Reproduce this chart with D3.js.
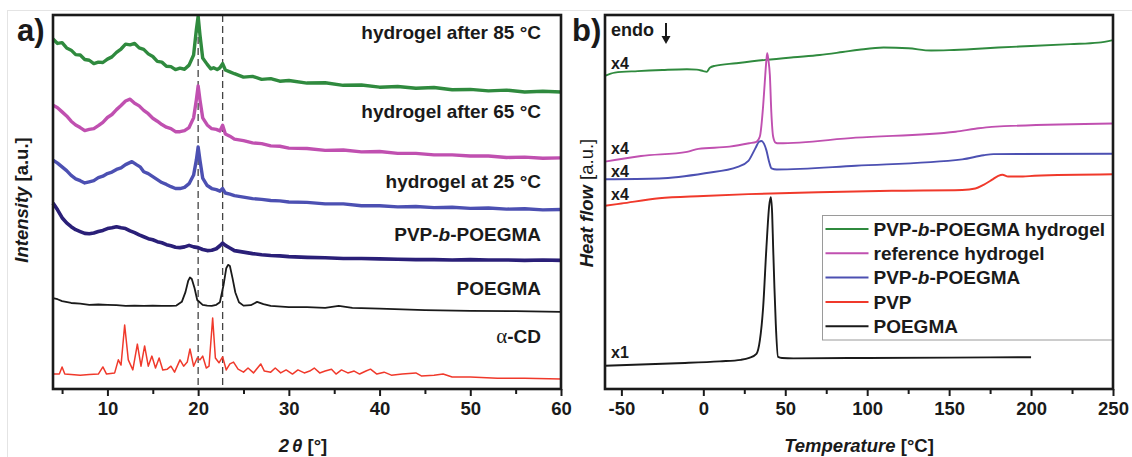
<!DOCTYPE html>
<html>
<head>
<meta charset="utf-8">
<script src="https://cdn.jsdelivr.net/npm/d3@7/dist/d3.min.js"></script>
<style>
body { margin: 0; background: #fff; }
text { font-family: "Liberation Sans", Arial, sans-serif; font-weight: bold; fill: #1a1a1a; }
</style>
</head>
<body>
<svg id="chart" width="1132" height="457"></svg>
<script>
// ---- panel a: XRD, 2theta vs intensity (a.u., offset traces) ----
var xrdTicks = [10, 20, 30, 40, 50, 60];
var xrdMinor = [5, 15, 25, 35, 45, 55];
var xrdDashed = [20, 22.7];

var xrdAfter85 = [[4,93.6],[4.5,92.4],[5,92.6],[5.5,91.2],[6,90.6],[6.5,89.4],[7,89.3],[7.5,88.1],[8,87.9],[8.5,87.0],[9,87.4],[9.5,87.3],[10,88.2],[10.5,88.8],[11,90.0],[11.5,90.9],[12,92.2],[12.5,92.0],[13,92.4],[13.5,91.2],[14,90.8],[14.5,89.6],[15,88.9],[15.5,87.6],[16,87.4],[16.5,86.3],[17,86.2],[17.5,85.4],[18,85.8],[18.5,85.5],[19,86.6],[19.5,89.3],[19.8,96.0],[20,99.7],[20.2,94.7],[20.5,88.5],[21,86.8],[21.4,85.6],[21.7,85.9],[22.1,85.4],[22.4,85.9],[22.7,87.0],[23,85.3],[23.5,84.8],[24,84.3],[25,83.4],[26,83.6],[27,82.8],[28,83.0],[29,82.3],[30,82.5],[32,81.8],[34,81.9],[36,81.2],[38,81.3],[40,80.7],[42,80.9],[44,80.4],[46,80.6],[48,80.0],[50,80.1],[52,79.7],[54,79.9],[56,79.4],[58,79.6],[60,79.4]];

var xrdAfter65 = [[4,75.9],[4.5,75.2],[5,74.1],[5.5,73.0],[6,71.6],[6.5,70.6],[7,69.9],[7.5,69.1],[8,69.4],[8.5,69.6],[9,70.4],[9.5,71.3],[10,72.6],[10.5,73.4],[11,74.7],[11.5,75.8],[12,77.0],[12.5,77.5],[13,76.4],[13.5,75.7],[14,74.5],[14.5,73.6],[15,72.4],[15.5,71.6],[16,70.7],[16.5,70.0],[17,69.6],[17.5,68.8],[18,68.8],[18.5,69.1],[19,69.9],[19.5,72.5],[19.8,77.3],[20,81.0],[20.2,77.3],[20.5,72.5],[21,70.6],[21.5,69.6],[22,69.4],[22.4,69.0],[22.7,70.5],[23,68.2],[23.5,67.6],[24,66.8],[25,66.4],[26,65.8],[27,65.6],[28,65.0],[29,64.9],[30,64.4],[32,64.3],[34,63.8],[36,63.9],[38,63.4],[40,63.5],[42,63.0],[44,63.0],[46,62.6],[48,62.6],[50,62.3],[52,62.3],[54,61.9],[56,62.0],[58,61.7],[60,61.8]];

var xrdAt25 = [[4,61.2],[4.5,60.4],[5,59.4],[5.5,58.4],[6,57.1],[6.5,56.2],[7,55.7],[7.5,55.1],[8,55.4],[8.5,55.7],[9,56.5],[9.5,56.9],[10,57.6],[10.5,58.0],[11,58.7],[11.5,59.1],[12,60.0],[12.7,60.8],[13.2,60.0],[13.6,59.4],[14,58.1],[14.5,57.6],[15,56.8],[15.5,56.0],[16,55.2],[16.5,54.7],[17,54.1],[17.5,53.6],[18,53.6],[18.5,53.9],[19,54.9],[19.5,57.2],[19.8,61.2],[20,64.7],[20.2,61.2],[20.5,56.4],[21,54.4],[21.5,53.6],[22,53.3],[22.4,52.9],[22.7,53.6],[23,52.4],[23.5,52.1],[24,51.7],[25,51.3],[26,50.9],[27,50.7],[28,50.4],[29,50.3],[30,50.0],[32,49.9],[34,49.5],[36,49.5],[38,49.0],[40,49.0],[42,48.7],[44,48.8],[46,48.5],[48,48.6],[50,48.3],[52,48.4],[54,48.1],[56,48.2],[58,47.9],[60,48.0]];

var xrdCopolymer = [[4,49.7],[4.5,47.9],[5,45.8],[5.5,44.4],[6,43.4],[6.5,42.6],[7,42.1],[7.5,41.6],[8,41.5],[8.5,41.7],[9,42.1],[9.5,42.4],[10,42.9],[10.5,43.1],[11,43.4],[11.5,43.1],[12,42.9],[12.5,42.3],[13,41.8],[13.5,41.2],[14,40.7],[14.5,40.2],[15,39.9],[15.5,39.4],[16,39.1],[16.5,38.6],[17,38.3],[17.5,37.9],[18,37.8],[18.5,38.0],[19,38.4],[19.5,38.0],[20,37.8],[20.5,37.3],[21,37.0],[21.5,37.1],[22,37.5],[22.4,38.3],[22.7,39.0],[23,38.4],[23.5,37.7],[24,37.0],[25,36.6],[26,36.2],[27,35.9],[28,35.7],[29,35.6],[30,35.4],[32,35.2],[34,35.1],[36,34.9],[38,34.9],[40,34.8],[42,34.7],[44,34.6],[46,34.6],[48,34.5],[50,34.6],[52,34.5],[54,34.5],[56,34.4],[58,34.5],[60,34.4]];

var xrdPoegma = [[4,24.3],[4.5,24.0],[5,23.5],[6,23.0],[7,22.8],[8,22.5],[9,22.6],[10,22.5],[11,22.4],[12,22.2],[13,22.3],[14,22.2],[15,22.3],[16,22.2],[17,22.2],[17.6,22.3],[18.2,23.3],[18.6,25.9],[18.9,28.9],[19.1,29.8],[19.3,29.4],[19.6,27.0],[19.9,23.8],[20.5,22.5],[21,22.3],[21.5,22.2],[22,22.5],[22.4,23.2],[22.8,27.8],[23.1,32.3],[23.3,33.2],[23.5,32.9],[23.8,29.5],[24.1,25.8],[24.5,23.2],[25,22.3],[25.8,22.4],[26.5,23.3],[27.2,22.7],[28,22.2],[30,21.9],[32,21.9],[34,21.7],[35.5,22.2],[37,21.7],[40,21.5],[45,21.1],[50,20.9],[55,20.8],[60,20.6]];

var xrdCyclodextrin = [[4,4.0],[4.7,4.0],[5.0,5.9],[5.3,4.0],[6,3.9],[7,3.7],[8,3.9],[9,4.0],[9.5,5.9],[9.9,4.0],[10.8,4.3],[11.2,7.8],[11.5,6.4],[11.9,17.1],[12.3,7.8],[12.8,5.1],[13.3,12.0],[13.7,6.1],[14.1,11.5],[14.5,6.1],[14.9,8.8],[15.3,5.6],[15.7,8.3],[16.1,5.1],[16.6,5.3],[17.0,6.1],[17.4,4.5],[18.0,7.8],[18.4,6.1],[18.8,7.2],[19.1,10.7],[19.5,6.1],[19.9,8.3],[20.2,7.8],[20.5,8.8],[20.9,5.6],[21.2,6.1],[21.6,19.0],[21.9,8.3],[22.3,7.0],[22.7,8.6],[23.1,5.1],[23.5,6.7],[23.9,7.2],[24.4,5.3],[25.0,4.5],[25.5,5.6],[26.1,4.3],[26.9,6.7],[27.3,4.8],[28.0,4.5],[28.5,5.6],[29.1,4.3],[29.7,5.1],[30.4,4.0],[31.0,5.1],[31.7,4.3],[32.3,4.8],[32.8,5.6],[33.4,4.3],[34.0,4.8],[34.7,5.3],[35.2,4.0],[35.8,5.1],[36.5,4.3],[37.2,4.8],[37.8,4.0],[38.5,4.8],[39.0,5.3],[39.7,4.0],[40.5,4.5],[41.3,3.7],[42.5,4.0],[44.0,4.3],[44.6,3.5],[46.0,3.7],[47.0,4.0],[48.0,3.2],[50.0,3.2],[53,2.9],[56,2.9],[60,2.7]];

var xrdNames = ["hydrogel after 85 °C", "hydrogel after 65 °C", "hydrogel at 25 °C", "PVP-b-POEGMA", "POEGMA", "α-CD"];
var xrdColors = ["#2f8a3e", "#c050b0", "#4c50b2", "#2a1f78", "#1a1a1a", "#f0392b"];
var xrdLabelY = [93.6, 72.5, 53.8, 39.6, 25.1, 12.3];

// ---- panel b: DSC, temperature vs heat flow (a.u., offset traces) ----
var dscTicks = [-50, 0, 50, 100, 150, 200, 250];
var dscMinor = [-25, 25, 75, 125, 175, 225];

var dscHydrogel = [[-60,83.7],[-54,84.6],[-40,85.0],[-25,85.3],[-10,85.5],[-4,85.4],[0,85.0],[2,84.8],[4,85.9],[7,86.4],[20,87.1],[38,88.0],[55,88.7],[71,89.3],[85,90.1],[95,90.7],[110,91.3],[125,91.1],[139,90.5],[150,90.6],[165,90.9],[180,91.3],[200,91.7],[224,92.2],[241,92.6],[250,93.3]];
var dscReference = [[-60,60.8],[-38,62.3],[-10,63.4],[-3,64.2],[16,64.8],[28,65.7],[32.4,66.1],[34.5,67.5],[36.5,75.7],[37.5,82.0],[38.5,88.0],[39,89.8],[39.7,88.0],[40.6,84.0],[41.5,74.0],[42.6,67.5],[44,65.9],[46,65.7],[93,67.2],[154,68.8],[166,69.6],[176,70.1],[250,71.0]];
var dscCopolymer = [[-60,56.1],[-27,56.3],[1,57.7],[21,59.4],[27.5,61.0],[31.8,64.4],[34,66.1],[35.5,66.3],[37,65.6],[38.5,63.8],[40.3,60.5],[41.6,59.0],[44.8,58.7],[93,59.7],[158,61.4],[171,62.5],[177,62.8],[250,62.9]];
var dscPvp = [[-60,49.0],[-50,49.6],[-27,51.0],[0,51.6],[27.5,52.1],[70,52.6],[115,53.0],[158,53.2],[166,53.6],[171,54.6],[176,55.9],[180,57.0],[182.5,57.3],[186,56.8],[195,56.8],[202,57.0],[250,57.4]];
var dscPoegma = [[-60,6.2],[-16,6.9],[10,7.4],[23,7.8],[28,8.3],[32.4,9.4],[34.5,13.0],[36.5,21.8],[38.5,37.8],[40.2,49.0],[41.2,51.3],[42,47.0],[42.6,38.0],[43.4,27.0],[44.2,17.6],[45.6,8.6],[48,8.3],[55,8.2],[100,8.3],[150,8.4],[200,8.5]];

var dscNames = ["PVP-b-POEGMA hydrogel", "reference hydrogel", "PVP-b-POEGMA", "PVP", "POEGMA"];
var dscColors = ["#2f8a3e", "#c050b0", "#4c50b2", "#f0392b", "#1a1a1a"];
var dscFactors = ["x4", "x4", "x4", "x4", "x1"];
var dscFactorY = [85.6, 62.8, 56.7, 50.5, 8.4];

var svg = d3.select("#chart");

// faint image border
svg.append("line").attr("x1", 8).attr("x2", 1132).attr("y1", 10.5).attr("y2", 10.5).attr("stroke", "#e4e4e4");
svg.append("line").attr("x1", 7.5).attr("x2", 7.5).attr("y1", 10).attr("y2", 457).attr("stroke", "#e4e4e4");

var plotTop = 15, plotBottom = 389;
var fmtTick = function(d) { return String(d); };

// ================= panel a =================
var xa = d3.scaleLinear().domain([4, 60]).range([53, 561]);
var ya = d3.scaleLinear().domain([0, 100]).range([plotBottom, plotTop]);

var ga = svg.append("g");

ga.selectAll(".dash")
	.data(xrdDashed)
	.enter()
	.append("line")
	.attr("x1", function(d) { return xa(d); })
	.attr("x2", function(d) { return xa(d); })
	.attr("y1", plotTop)
	.attr("y2", plotBottom)
	.attr("stroke", "#444")
	.attr("stroke-width", 1.3)
	.attr("stroke-dasharray", "7,4");

var lineA = d3.line()
	.x(function(d) { return xa(d[0]); })
	.y(function(d) { return ya(d[1]); });

var xrdSeries = [xrdAfter85, xrdAfter65, xrdAt25, xrdCopolymer, xrdPoegma, xrdCyclodextrin];
var xrdWidths = [3.4, 3.4, 3.4, 3.6, 1.8, 1.5];

ga.selectAll(".xrd")
	.data(xrdSeries)
	.enter()
	.append("path")
	.attr("d", lineA)
	.attr("fill", "none")
	.attr("stroke", function(d, i) { return xrdColors[i]; })
	.attr("stroke-width", function(d, i) { return xrdWidths[i]; })
	.attr("stroke-linejoin", "round");

// trace labels
var labs = ga.selectAll(".lab")
	.data(xrdNames)
	.enter()
	.append("text")
	.attr("x", 541)
	.attr("y", function(d, i) { return ya(xrdLabelY[i]); })
	.attr("text-anchor", "end")
	.attr("font-size", "19px");
labs.each(function(d) {
	var t = d3.select(this);
	if (d === "PVP-b-POEGMA") {
		t.append("tspan").text("PVP-");
		t.append("tspan").attr("font-style", "italic").text("b");
		t.append("tspan").text("-POEGMA");
	} else if (d === "α-CD") {
		t.append("tspan").attr("font-family", "'Liberation Serif', serif").attr("font-weight", "normal").attr("font-size", "21px").text("α");
		t.append("tspan").text("-CD");
	} else {
		t.text(d);
	}
});

// axis a
ga.append("g")
	.attr("transform", "translate(0," + plotBottom + ")")
	.call(d3.axisBottom(xa).tickValues(xrdMinor).tickSize(5).tickFormat(""))
	.call(function(g) { g.select(".domain").remove(); });
var axA = ga.append("g")
	.attr("transform", "translate(0," + plotBottom + ")")
	.call(d3.axisBottom(xa).tickValues(xrdTicks).tickSize(7).tickPadding(6).tickFormat(fmtTick));
axA.select(".domain").remove();
axA.selectAll("text").attr("font-size", "18.5px").attr("fill", "#1a1a1a").attr("font-family", "'Liberation Sans', Arial, sans-serif");

ga.append("rect")
	.attr("x", xa.range()[0]).attr("y", plotTop)
	.attr("width", xa.range()[1] - xa.range()[0]).attr("height", plotBottom - plotTop)
	.attr("fill", "none").attr("stroke", "#1a1a1a").attr("stroke-width", 2.6);

var xt = ga.append("text").attr("x", 303).attr("y", 452).attr("text-anchor", "middle").attr("font-size", "18.5px");
xt.append("tspan").attr("font-style", "italic").text("2");
xt.append("tspan").attr("font-style", "italic").attr("dx", 3).text("θ");
xt.append("tspan").text(" [°]");

var yt = ga.append("text").attr("transform", "translate(28,200) rotate(-90)").attr("text-anchor", "middle").attr("font-size", "18.5px");
yt.append("tspan").attr("font-style", "italic").text("Intensity");
yt.append("tspan").text(" [a.u.]");

ga.append("text").attr("x", 17).attr("y", 41).attr("font-size", "31px").text("a)");

// ================= panel b =================
var xb = d3.scaleLinear().domain([-60, 250]).range([605, 1113]);
var yb = d3.scaleLinear().domain([0, 100]).range([plotBottom, plotTop]);

var gb = svg.append("g");

var lineB = d3.line()
	.x(function(d) { return xb(d[0]); })
	.y(function(d) { return yb(d[1]); })
	.curve(d3.curveMonotoneX);

var dscSeries = [dscHydrogel, dscReference, dscCopolymer, dscPvp, dscPoegma];

gb.selectAll(".dsc")
	.data(dscSeries)
	.enter()
	.append("path")
	.attr("d", lineB)
	.attr("fill", "none")
	.attr("stroke", function(d, i) { return dscColors[i]; })
	.attr("stroke-width", 1.9);

gb.selectAll(".fac")
	.data(dscFactors)
	.enter()
	.append("text")
	.attr("x", 611)
	.attr("y", function(d, i) { return yb(dscFactorY[i]); })
	.attr("font-size", "16px")
	.text(function(d) { return d; });

// legend
var leg = gb.append("g").attr("transform", "translate(822.5,215.5)");
leg.append("rect").attr("width", 290).attr("height", 124.5).attr("fill", "#fff").attr("stroke", "#9a9a9a").attr("stroke-width", 1);
var rows = leg.selectAll(".row")
	.data(dscNames)
	.enter()
	.append("g")
	.attr("transform", function(d, i) { return "translate(0," + (13.5 + i * 24.3) + ")"; });
rows.append("line")
	.attr("x1", 3).attr("x2", 46)
	.attr("stroke", function(d, i) { return dscColors[i]; })
	.attr("stroke-width", 2);
rows.append("text")
	.attr("x", 51)
	.attr("y", 6.8)
	.attr("font-size", "19px")
	.each(function(d) {
		var t = d3.select(this);
		var parts = d.split("-b-");
		if (parts.length > 1) {
			t.append("tspan").text(parts[0] + "-");
			t.append("tspan").attr("font-style", "italic").text("b");
			t.append("tspan").text("-" + parts[1]);
		} else {
			t.text(d);
		}
	});

// axis b
gb.append("g")
	.attr("transform", "translate(0," + plotBottom + ")")
	.call(d3.axisBottom(xb).tickValues(dscMinor).tickSize(5).tickFormat(""))
	.call(function(g) { g.select(".domain").remove(); });
var axB = gb.append("g")
	.attr("transform", "translate(0," + plotBottom + ")")
	.call(d3.axisBottom(xb).tickValues(dscTicks).tickSize(7).tickPadding(6).tickFormat(fmtTick));
axB.select(".domain").remove();
axB.selectAll("text").attr("font-size", "18.5px").attr("fill", "#1a1a1a").attr("font-family", "'Liberation Sans', Arial, sans-serif");
svg.selectAll(".tick line").attr("stroke", "#1a1a1a").attr("stroke-width", 2);

gb.append("rect")
	.attr("x", xb.range()[0]).attr("y", plotTop)
	.attr("width", xb.range()[1] - xb.range()[0]).attr("height", plotBottom - plotTop)
	.attr("fill", "none").attr("stroke", "#1a1a1a").attr("stroke-width", 2.6);

var xtb = gb.append("text").attr("x", 859).attr("y", 452).attr("text-anchor", "middle").attr("font-size", "18.5px");
xtb.append("tspan").attr("font-style", "italic").text("Temperature");
xtb.append("tspan").text(" [°C]");

var ytb = gb.append("text").attr("transform", "translate(593,203) rotate(-90)").attr("text-anchor", "middle").attr("font-size", "18.5px");
ytb.append("tspan").attr("font-style", "italic").text("Heat flow");
ytb.append("tspan").attr("font-weight", "normal").text(" [a.u.]");

gb.append("text").attr("x", 572).attr("y", 41).attr("font-size", "31px").text("b)");

// endo arrow
gb.append("text").attr("x", 611).attr("y", 36).attr("font-size", "18px").text("endo");
gb.append("line").attr("x1", 666).attr("x2", 666).attr("y1", 23).attr("y2", 38).attr("stroke", "#1a1a1a").attr("stroke-width", 2);
gb.append("path").attr("d", "M661.5,36 L666,44 L670.5,36 Z").attr("fill", "#1a1a1a");
</script>
</body>
</html>
